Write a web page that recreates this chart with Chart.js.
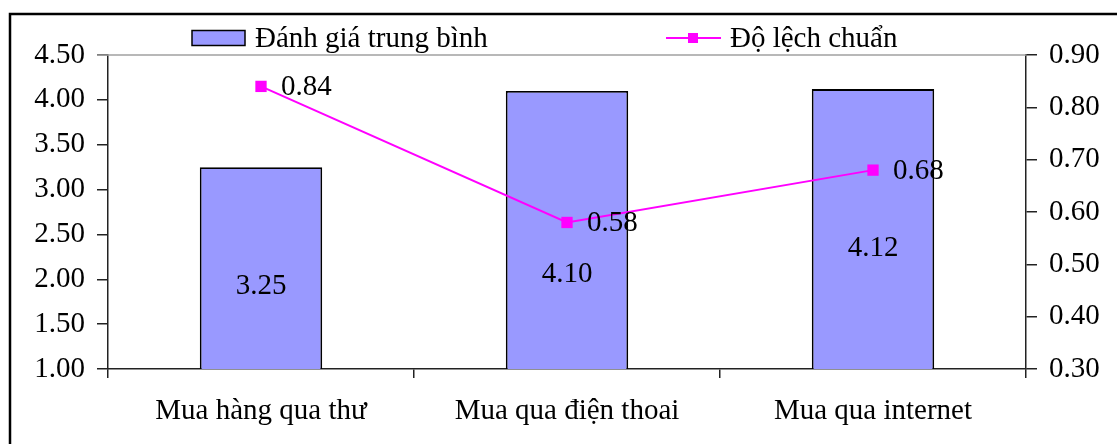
<!DOCTYPE html>
<html lang="vi">
<head>
<meta charset="utf-8">
<title>Đánh giá trung bình và độ lệch chuẩn</title>
<script src="https://cdn.jsdelivr.net/npm/chart.js@4/dist/chart.umd.min.js"></script>
<style>
  html, body { margin: 0; padding: 0; background: #fff; }
  #wrap { width: 1117px; height: 444px; position: relative; }
</style>
</head>
<body>
<div id="wrap"><canvas id="c"></canvas></div>
<script>
// Purchase channels and their survey results
const categories = ['Mua hàng qua thư', 'Mua qua điện thoai', 'Mua qua internet'];
const meanScores = [3.25, 4.10, 4.12];
const stdDevs = [0.84, 0.58, 0.68];
const leftTicks = [1.00, 1.50, 2.00, 2.50, 3.00, 3.50, 4.00, 4.50];
const rightTicks = [0.30, 0.40, 0.50, 0.60, 0.70, 0.80, 0.90];

const FONT = "'Liberation Serif', 'Times New Roman', serif";
const SIZE = 29;
const BAR_FILL = '#9999FF';
const LINE_COLOR = '#FF00FF';

// White page with the outer frame
const frame = {
  id: 'frame',
  beforeDraw(chart) {
    const { ctx, width, height } = chart;
    ctx.save();
    ctx.fillStyle = '#fff';
    ctx.fillRect(0, 0, width, height);
    ctx.strokeStyle = '#000';
    ctx.lineWidth = 2.5;
    ctx.beginPath();
    ctx.moveTo(10, height + 5);
    ctx.lineTo(10, 14);
    ctx.lineTo(width + 5, 14);
    ctx.stroke();
    ctx.restore();
  },
  afterDraw(chart) {
    // plot area top border
    const { ctx, chartArea } = chart;
    ctx.save();
    ctx.strokeStyle = '#a0a0a0';
    ctx.lineWidth = 1.5;
    ctx.beginPath();
    ctx.moveTo(chartArea.left - 11, chartArea.top);
    ctx.lineTo(chartArea.right, chartArea.top);
    ctx.stroke();
    ctx.restore();
  }
};

// Legend row drawn from the dataset labels and colours
const legendRow = {
  id: 'legendRow',
  afterDraw(chart, args, opts) {
    const { ctx } = chart;
    const ds = chart.data.datasets;
    const y = opts.y;
    ctx.save();
    ctx.font = SIZE + 'px ' + FONT;
    ctx.textBaseline = 'middle';
    ctx.textAlign = 'left';

    // bar series
    let x = opts.x[0];
    ctx.fillStyle = ds[0].backgroundColor;
    ctx.fillRect(x, y - 7.5, 53, 15);
    ctx.strokeStyle = '#000';
    ctx.lineWidth = 1.5;
    ctx.strokeRect(x, y - 7.5, 53, 15);
    ctx.fillStyle = '#000';
    ctx.fillText(ds[0].label, x + 63, y + 1);

    // line series
    x = opts.x[1];
    ctx.strokeStyle = ds[1].borderColor;
    ctx.lineWidth = 2;
    ctx.beginPath();
    ctx.moveTo(x, y);
    ctx.lineTo(x + 55, y);
    ctx.stroke();
    ctx.fillStyle = ds[1].borderColor;
    ctx.fillRect(x + 22, y - 5, 10, 10);
    ctx.fillStyle = '#000';
    ctx.fillText(ds[1].label, x + 64, y + 1);
    ctx.restore();
  }
};

// Value labels: inside the bars, and to the right of the line markers
const valueLabels = {
  id: 'valueLabels',
  afterDatasetsDraw(chart, args, opts) {
    const { ctx, chartArea } = chart;
    ctx.save();
    ctx.font = SIZE + 'px ' + FONT;
    ctx.fillStyle = '#000';
    ctx.textBaseline = 'middle';

    const barMeta = chart.getDatasetMeta(0);
    ctx.textAlign = 'center';
    barMeta.data.forEach((bar, i) => {
      const base = Math.min(bar.base, chartArea.bottom);
      const yy = base - (base - bar.y) * opts.barRise[i];
      ctx.fillText(meanScores[i].toFixed(2), bar.x, yy);
    });

    const lineMeta = chart.getDatasetMeta(1);
    ctx.textAlign = 'left';
    lineMeta.data.forEach((pt, i) => {
      ctx.fillText(stdDevs[i].toFixed(2), pt.x + 20, pt.y + 1);
    });
    ctx.restore();
  }
};

const tickFont = { family: FONT, size: SIZE };

new Chart(document.getElementById('c'), {
  data: {
    labels: categories,
    datasets: [
      {
        type: 'bar',
        label: 'Đánh giá trung bình',
        data: meanScores,
        yAxisID: 'y',
        backgroundColor: BAR_FILL,
        borderColor: '#000',
        borderWidth: 1.8,
        barPercentage: 0.4,
        categoryPercentage: 1.0,
        order: 1
      },
      {
        type: 'line',
        label: 'Độ lệch chuẩn',
        data: stdDevs,
        yAxisID: 'y1',
        borderColor: LINE_COLOR,
        backgroundColor: LINE_COLOR,
        borderWidth: 2,
        pointStyle: 'rect',
        pointRadius: 8,
        pointBorderWidth: 0,
        pointBackgroundColor: LINE_COLOR,
        tension: 0,
        order: 0
      }
    ]
  },
  options: {
    responsive: true,
    maintainAspectRatio: false,
    animation: false,
    events: [],
    layout: { padding: { top: 55, left: 0, right: 0, bottom: 0 } },
    plugins: {
      legend: { display: false },
      tooltip: { enabled: false },
      legendRow: { x: [192, 666], y: 38 },
      valueLabels: { barRise: [0.41, 0.34, 0.43] }
    },
    scales: {
      x: {
        offset: true,
        grid: {
          offset: true,
          drawOnChartArea: false,
          tickLength: 9,
          color: '#222',
          lineWidth: 1.5
        },
        border: { color: '#222', width: 1.5 },
        ticks: { font: tickFont, color: '#000', padding: 16, maxRotation: 0 },
        afterFit(s) { s.height = 75; }
      },
      y: {
        position: 'left',
        min: leftTicks[0],
        max: leftTicks[leftTicks.length - 1],
        afterBuildTicks(s) { s.ticks = leftTicks.map(v => ({ value: v })); },
        ticks: {
          font: tickFont, color: '#000', padding: 12,
          callback: v => Number(v).toFixed(2)
        },
        grid: { drawOnChartArea: false, tickLength: 11, color: '#222', lineWidth: 1.5 },
        border: { color: '#222', width: 1.5 },
        afterFit(s) { s.width = 108; }
      },
      y1: {
        position: 'right',
        min: rightTicks[0],
        max: rightTicks[rightTicks.length - 1],
        afterBuildTicks(s) { s.ticks = rightTicks.map(v => ({ value: v })); },
        ticks: {
          font: tickFont, color: '#000', padding: 12,
          callback: v => Number(v).toFixed(2)
        },
        grid: { drawOnChartArea: false, tickLength: 11, color: '#222', lineWidth: 1.5 },
        border: { color: '#222', width: 1.5 },
        afterFit(s) { s.width = 91; }
      }
    }
  },
  plugins: [frame, legendRow, valueLabels]
});
</script>
</body>
</html>
